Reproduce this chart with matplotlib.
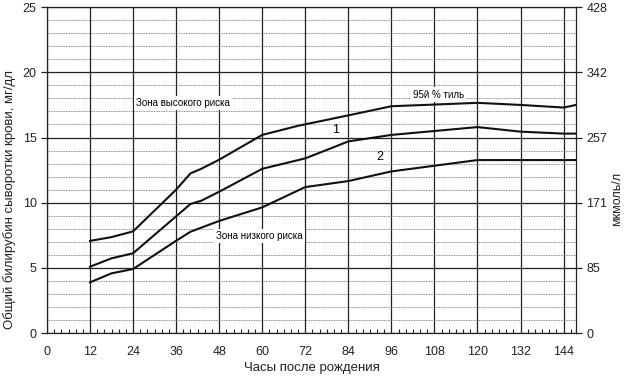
import numpy as np
import matplotlib.pyplot as plt
from matplotlib.ticker import MultipleLocator, FixedLocator

plt.rcParams['font.family'] = ['Liberation Sans', 'DejaVu Sans']

# 95th percentile curve
x_top = [12, 18, 24, 36, 40, 43, 48, 60, 70, 84, 96, 120, 132, 144, 147.5]
y_top = [7.07, 7.36, 7.8, 11.0, 12.25, 12.6, 13.3, 15.2, 15.9, 16.7, 17.4, 17.66, 17.5, 17.3, 17.5]

# curve 1
x_mid = [12, 18, 24, 40, 43, 48, 60, 72, 84, 96, 120, 132, 144, 147.5]
y_mid = [5.09, 5.73, 6.12, 9.9, 10.15, 10.84, 12.6, 13.4, 14.7, 15.2, 15.8, 15.45, 15.3, 15.3]

# curve 2
x_low = [12, 18, 24, 36, 40, 48, 60, 72, 76, 84, 96, 120, 144, 147.5]
y_low = [3.89, 4.58, 4.91, 7.08, 7.77, 8.6, 9.64, 11.2, 11.35, 11.66, 12.4, 13.27, 13.27, 13.27]

y_ticks = [0, 5, 10, 15, 20, 25]
umol_labels = ['0', '85', '171', '257', '342', '428']
x_ticks = list(range(0, 145, 12))

fig = plt.figure(figsize=(6.24, 3.78), dpi=100)
ax = fig.add_axes([0.0753, 0.119, 0.848, 0.862])

ax.set_xlim(0, 147.5)
ax.set_ylim(0, 25)

# grid
ax.yaxis.set_minor_locator(MultipleLocator(1))
ax.xaxis.set_minor_locator(MultipleLocator(2))
ax.grid(which='minor', axis='y', color='#666666', linestyle=(0, (1, 1)), linewidth=0.6)
ax.grid(which='major', axis='y', color='#222222', linewidth=0.9)
ax.grid(which='major', axis='x', color='#222222', linewidth=0.9)

ax.set_xticks(x_ticks)
ax.set_yticks(y_ticks)
ax.tick_params(axis='both', which='major', labelsize=9, colors='#222222', length=4, width=0.9)
ax.tick_params(axis='x', which='major', length=0, pad=9)
ax.tick_params(axis='x', which='minor', direction='in', length=3, width=0.8, color='#222222')
ax.tick_params(axis='y', which='minor', length=0)
for s in ax.spines.values():
    s.set_color('#222222')
    s.set_linewidth(0.9)

ax.plot(x_top, y_top, color='#111111', linewidth=1.5)
ax.plot(x_mid, y_mid, color='#111111', linewidth=1.5)
ax.plot(x_low, y_low, color='#111111', linewidth=1.5)

box = dict(facecolor='white', edgecolor='none', pad=1.5)
ax.text(24.8, 17.65, 'Зона высокого риска', fontsize=7, va='center', ha='left', bbox=box)
ax.text(47.2, 7.46, 'Зона низкого риска', fontsize=7, va='center', ha='left', bbox=box)
ax.text(101.9, 18.3, '95й % тиль', fontsize=7, va='center', ha='left', bbox=box)
ax.text(80.4, 15.6, '1', fontsize=9, ha='center', va='center')
ax.text(92.7, 13.5, '2', fontsize=9, ha='center', va='center')

ax.set_xlabel('Часы после рождения', fontsize=9.5, color='#222222', labelpad=3)
ax.set_ylabel('Общий билирубин сыворотки крови, мг/дл', fontsize=9.5, color='#222222')
ax.yaxis.set_label_coords(-0.058, 0.41)

ax2 = ax.twinx()
ax2.set_ylim(0, 25)
ax2.set_yticks(y_ticks)
ax2.set_yticklabels(umol_labels)
ax2.tick_params(axis='y', labelsize=9, colors='#222222', length=4, width=0.9)
for s in ax2.spines.values():
    s.set_visible(False)
ax2.set_ylabel('мкмоль/л', fontsize=9, color='#222222')
ax2.yaxis.set_label_coords(1.066, 0.41)

fig.savefig('out.png', dpi=100)
